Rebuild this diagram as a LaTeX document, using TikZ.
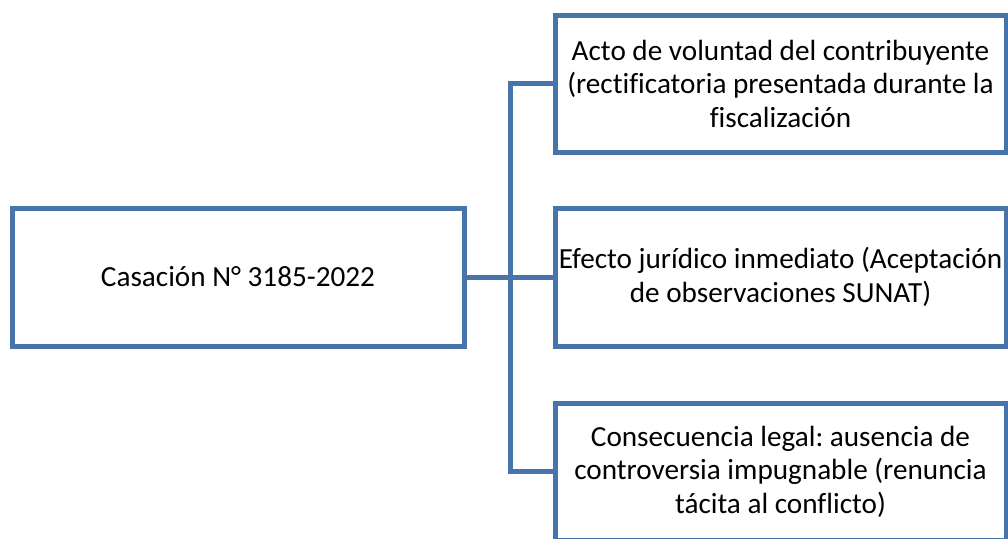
\documentclass[tikz,border=0pt]{standalone}
\usepackage{fontspec}
\setmainfont{Carlito}[Ligatures={NoCommon}]
\usepackage{tikz}
\usetikzlibrary{calc}
\frenchspacing
\definecolor{boxblue}{RGB}{71,116,170}
\tikzset{
  % common looks of the scheme
  link/.style={draw=boxblue, line width=5pt},
  casebox/.style={draw=boxblue, line width=5pt, rectangle, fill=white, inner sep=0pt,
    align=center, font=\fontsize{29.2}{33.5}\selectfont}
}

\begin{document}
\begin{tikzpicture}[x=1pt, y=-1pt]
    \clip (0,0) rectangle (1008,538);
    \useasboundingbox (0,0) rectangle (1008,538);

    % Place nodes
    \node [casebox, minimum width=452pt, minimum height=138pt] (casacion) at (238,277) {Casación N° 3185-2022};
    \node [casebox, minimum width=451pt, minimum height=137pt] (voluntad) at (780.5,83.5)
      {Acto de voluntad del contribuyente\\(rectificatoria presentada durante la\\fiscalización};
    \node [casebox, minimum width=451pt, minimum height=138pt] (efecto) at (780.5,277)
      {Efecto jurídico inmediato (Aceptación\\de observaciones SUNAT)};
    \node [casebox, minimum width=451pt, minimum height=137pt] (consecuencia) at (780.5,471.5)
      {Consecuencia legal: ausencia de\\controversia impugnable (renuncia\\tácita al conflicto)};
    \coordinate (trunk) at (510,277);

    % Draw edges
    \path [link] (casacion.east) -- (efecto.west);
    \path [link] (voluntad.west) -- (voluntad.west -| trunk) -- (consecuencia.west -| trunk) -- (consecuencia.west);
\end{tikzpicture}
\end{document}
